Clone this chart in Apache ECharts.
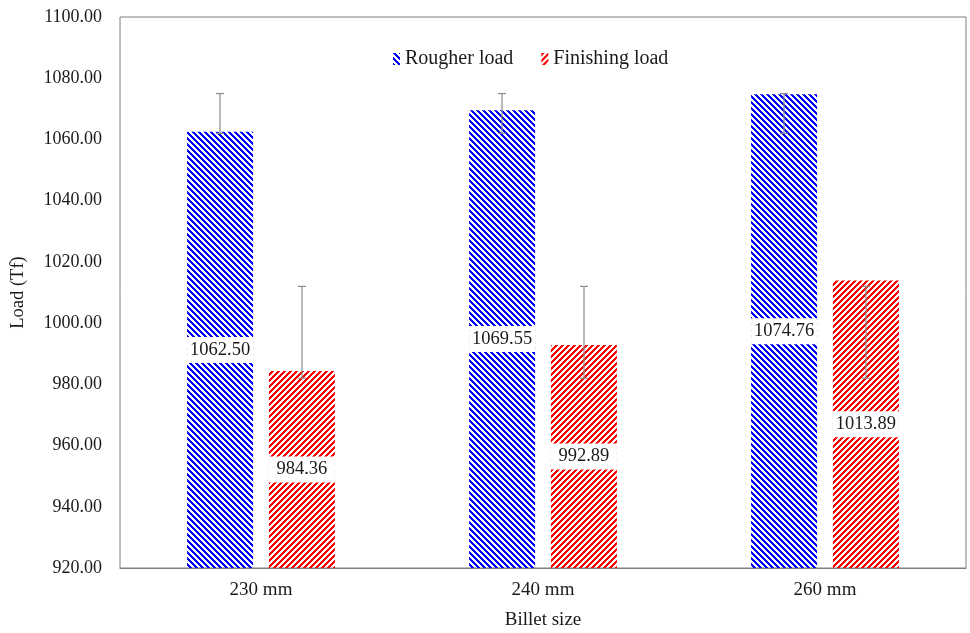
<!DOCTYPE html>
<html>
<head>
<meta charset="utf-8">
<script src="https://cdn.jsdelivr.net/npm/echarts@6/dist/echarts.min.js"></script>
<style>
  html, body { margin: 0; padding: 0; background: #fff; }
  #main { width: 970px; height: 633px; }
</style>
</head>
<body>
<div id="main"></div>
<script>
// data
var categories = ['230 mm', '240 mm', '260 mm'];
var rougherLoad = [1062.50, 1069.55, 1074.76];
var finishingLoad = [984.36, 992.89, 1013.89];
// error bar ends
var rougherErrLow = [1062, 1062, 1062];
var rougherErrHigh = [1075, 1075, 1075];
var finishingErrLow = [982, 982, 982];
var finishingErrHigh = [1012, 1012, 1012];

var FONT = '"Liberation Serif", "Times New Roman", serif';
var BAR_W = 66;
var BAR_OFF = 41;

// striped fill tile
function stripe(color, dir) {
  var n = 6;
  var c = document.createElement('canvas');
  c.width = n; c.height = n;
  var ctx = c.getContext('2d');
  for (var x = 0; x < n; x++) {
    for (var y = 0; y < n; y++) {
      var k = dir > 0 ? (x - y + n * 2) % n : (x + y) % n;
      if (k < 3) {
        ctx.fillStyle = color;
        ctx.fillRect(x, y, 1, 1);
      }
    }
  }
  return { image: c, repeat: 'repeat' };
}

var bluePat = stripe('#0000ff', 1);
var redPat = stripe('#ff0000', -1);

function errSeries(low, high, off) {
  return {
    type: 'custom',
    z: 10,
    silent: true,
    data: categories.map(function (c, i) { return [i, low[i], high[i]]; }),
    renderItem: function (params, api) {
      var lo = api.coord([api.value(0), api.value(1)]);
      var hi = api.coord([api.value(0), api.value(2)]);
      var x = lo[0] + off;
      var cap = 4;
      var st = { stroke: '#8c8c8c', lineWidth: 1.2 };
      return {
        type: 'group',
        children: [
          { type: 'line', shape: { x1: x, y1: lo[1], x2: x, y2: hi[1] }, style: st },
          { type: 'line', shape: { x1: x - cap, y1: hi[1], x2: x + cap, y2: hi[1] }, style: st },
          { type: 'line', shape: { x1: x - cap, y1: lo[1], x2: x + cap, y2: lo[1] }, style: st }
        ]
      };
    }
  };
}

var barLabel = {
  show: true,
  position: 'inside',
  formatter: function (p) { return p.value.toFixed(2); },
  fontFamily: FONT,
  fontSize: 18.5,
  color: '#1a1a1a',
  backgroundColor: '#fff',
  width: BAR_W,
  align: 'center',
  lineHeight: 20,
  padding: [3, 0, 3, 0]
};

var chart = echarts.init(document.getElementById('main'));
chart.setOption({
  animation: false,
  backgroundColor: '#fff',
  grid: {
    left: 120, right: 4, top: 17, bottom: 65,
    outerBoundsMode: 'none',
    containLabel: false,
    show: true, borderColor: '#7f7f7f', borderWidth: 1
  },
  legend: {
    top: 44,
    left: 388,
    itemGap: 28,
    itemWidth: 7,
    itemHeight: 12,
    icon: 'rect',
    textStyle: { fontFamily: FONT, fontSize: 20, color: '#1a1a1a' },
    data: ['Rougher load', 'Finishing load']
  },
  xAxis: {
    type: 'category',
    data: categories,
    name: 'Billet size',
    nameLocation: 'middle',
    nameGap: 43,
    nameTextStyle: { fontFamily: FONT, fontSize: 19, color: '#1a1a1a' },
    axisTick: { show: false },
    axisLine: { lineStyle: { color: '#7f7f7f' } },
    axisLabel: { fontFamily: FONT, fontSize: 19, color: '#1a1a1a', margin: 13 }
  },
  yAxis: {
    type: 'value',
    min: 920,
    max: 1100,
    interval: 20,
    name: 'Load (Tf)',
    nameLocation: 'middle',
    nameGap: 92,
    nameTextStyle: { fontFamily: FONT, fontSize: 18.5, color: '#1a1a1a' },
    splitLine: { show: false },
    axisLine: { show: false },
    axisTick: { show: false },
    axisLabel: {
      fontFamily: FONT, fontSize: 18, color: '#1a1a1a', margin: 18,
      formatter: function (v) { return v.toFixed(2); }
    }
  },
  series: [
    {
      name: 'Rougher load',
      type: 'bar',
      barWidth: BAR_W,
      barGap: '24%',
      data: rougherLoad,
      itemStyle: { color: bluePat },
      label: barLabel
    },
    {
      name: 'Finishing load',
      type: 'bar',
      barWidth: BAR_W,
      barGap: '24%',
      data: finishingLoad,
      itemStyle: { color: redPat },
      label: barLabel
    },
    errSeries(rougherErrLow, rougherErrHigh, -BAR_OFF),
    errSeries(finishingErrLow, finishingErrHigh, BAR_OFF)
  ]
});
</script>
</body>
</html>
